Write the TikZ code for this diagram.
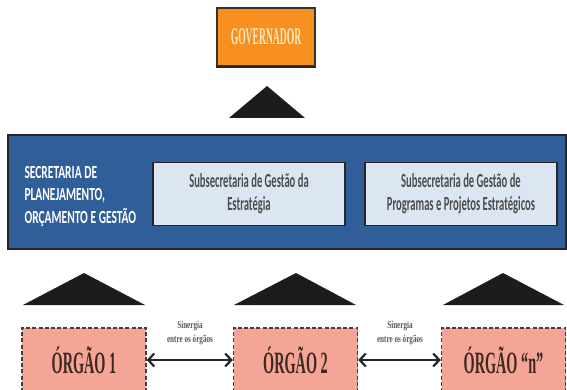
\documentclass[tikz,border=0pt]{standalone}
\usepackage{fontspec}
\usetikzlibrary{arrows.meta}
\newfontfamily\condserif[FakeStretch=0.46]{Liberation Serif}
\newfontfamily\govserif[FakeStretch=0.40]{Liberation Serif}
\newfontfamily\labelserif[FakeStretch=0.68]{Liberation Serif}
\newfontfamily\condsans[FakeStretch=0.53]{Carlito}
\newfontfamily\secsans[FakeStretch=0.62]{Carlito}
\definecolor{govorange}{HTML}{F7901E}
\definecolor{govtext}{HTML}{FBEBC0}
\definecolor{bandblue}{HTML}{2F5E98}
\definecolor{subblue}{HTML}{DCE6F2}
\definecolor{orgsalmon}{HTML}{F5A595}
\definecolor{triblack}{HTML}{1C1C1C}
\definecolor{textdark}{HTML}{3A2A22}
\begin{document}
\begin{tikzpicture}[x=1pt,y=-1pt,
  govbox/.style={draw=black!80, line width=1.2pt, fill=govorange, minimum width=98pt, minimum height=58pt, inner sep=0pt, font=\govserif\bfseries\fontsize{24}{26}\selectfont, text=govtext},
  bandbox/.style={draw=black!85, line width=1.6pt, fill=bandblue, minimum width=558pt, minimum height=114pt, inner sep=0pt},
  subbox/.style={draw=black!85, line width=1.4pt, fill=subblue, minimum width=192pt, minimum height=63pt, inner sep=0pt, align=center, font=\condsans\bfseries\fontsize{20}{23}\selectfont, text=black!70},
  orgbox/.style={draw=black!75, line width=1.5pt, dash pattern=on 4pt off 2.2pt, fill=orgsalmon, minimum width=124pt, minimum height=64pt, inner sep=0pt, font=\condserif\bfseries\fontsize{31}{34}\selectfont, text=textdark},
  tri/.style={fill=triblack},
  synarrow/.style={{Straight Barb[length=6pt,width=13pt,line width=2.2pt]}-{Straight Barb[length=6pt,width=13pt,line width=2.2pt]}, line width=2.8pt, black!85},
  synlabel/.style={align=center, font=\labelserif\bfseries\fontsize{10.5}{14}\selectfont, text=textdark!80}
]
\useasboundingbox (0,0) rectangle (567,390);
\clip (0,0) rectangle (567,390);
\fill[white] (0,0) rectangle (567,390);

% Governor
\node[govbox] (gov) at (266,37) {GOVERNADOR};
\draw[black!85, line width=2pt] (gov.south west) -- (gov.south east);
\fill[tri] (267,86) -- (305,118) -- (229,118) -- cycle;

% Secretaria band
\node[bandbox] (band) at (287,192) {};
\node[anchor=west, align=left, text=white, font=\secsans\bfseries\fontsize{18.5}{22.5}\selectfont] (sec) at (21,196) {SECRETARIA DE\\PLANEJAMENTO,\\ORÇAMENTO E GESTÃO};
\node[subbox] (sub1) at (249,194) {Subsecretaria de Gestão da\\Estratégia};
\node[subbox] (sub2) at (461,194) {Subsecretaria de Gestão de\\Programas e Projetos Estratégicos};

% Triangles
\fill[tri] (84,273) -- (145,305) -- (23,305) -- cycle;
\fill[tri] (296,273) -- (356,305) -- (234,305) -- cycle;
\fill[tri] (503,273) -- (564,305) -- (443,305) -- cycle;

% Organs
\node[orgbox] (org1) at (84,360) {ÓRGÃO 1};
\node[orgbox] (org2) at (295.5,360) {ÓRGÃO 2};
\node[orgbox] (orgn) at (503.5,360) {ÓRGÃO “n”};

\draw[synarrow] (org1.east) -- (org2.west);
\draw[synarrow] (org2.east) -- (orgn.west);
\node[synlabel] (syn1) at (190,333) {Sinergia\\entre os órgãos};
\node[synlabel] (syn2) at (400,333) {Sinergia\\entre os órgãos};
\end{tikzpicture}
\end{document}
